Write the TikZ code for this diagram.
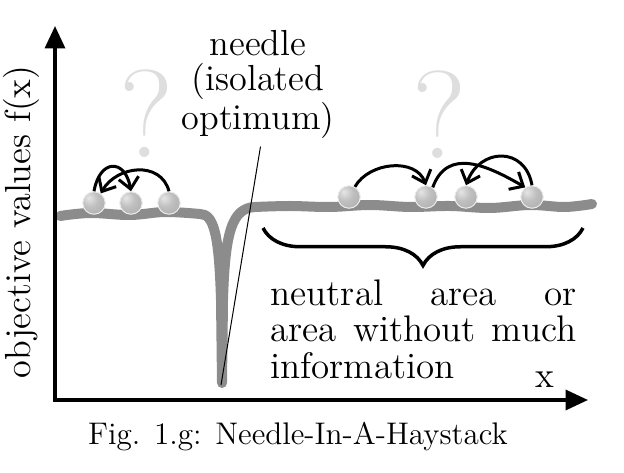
\documentclass[tikz,border=0pt]{standalone}
\usepackage{tikz}
\usetikzlibrary{arrows.meta, decorations.pathreplacing}
\definecolor{HayGray}{RGB}{140,140,140}
\definecolor{QuestGray}{RGB}{222,222,222}
\pgfdeclareradialshading{hayball}{\pgfpoint{-12bp}{12bp}}{%
    color(0bp)=(gray!20); color(18bp)=(gray!50); color(45bp)=(gray!68); color(75bp)=(gray!75)}
\tikzset{
    axisline/.style={line width=1.4pt,
        {Triangle[length=9pt,width=8pt]}-{Triangle[length=9pt,width=8pt]}},
    haycurve/.style={line width=4pt, HayGray, line join=round, line cap=round},
    ballnode/.style={circle, minimum size=9pt, inner sep=0pt, shading=hayball,
        draw=gray!15, line width=0.4pt},
    hoparrow/.style={-{Straight Barb[length=4.5pt,width=8pt]}, line width=1.2pt},
    questmark/.style={text=QuestGray, font=\fontsize{50}{50}\selectfont, inner sep=0pt},
    bigtext/.style={font=\fontsize{14.5}{14}\selectfont, inner sep=0pt},
    pointerline/.style={line width=0.4pt},
    bracedeco/.style={decorate, decoration={brace, amplitude=15pt}, line width=1.4pt},
}

\begin{document}
\begin{tikzpicture}[x=0.4pt, y=0.4pt]
    \useasboundingbox (0,0) rectangle (624,472);
    \coordinate (O) at (55,72);
    \coordinate (ytop) at (55,446);
    \coordinate (xend) at (588,72);
    \coordinate (needletip) at (221,87);
    \coordinate (braceL) at (263,244);
    \coordinate (braceR) at (583,244);

    \node[questmark] (qleft) at (147,358) {?};
    \node[questmark] (qright) at (440,357) {?};

    \draw[haycurve] plot[smooth, tension=0.6] coordinates {(60,256) (90,259) (130,257) (165,260) (200,258)}
        .. controls (214,258) and (219,237) .. (221,172) -- (222,89) -- (223,172)
        .. controls (225,240) and (232,264) .. (255,265)
        -- plot[smooth, tension=0.6] coordinates {(255,265) (290,266) (330,265) (370,267) (410,265)
            (450,266) (490,264) (530,267) (565,265) (592,268)};

    \node[ballnode] (l1) at (94,269) {};
    \node[ballnode] (l2) at (131,269) {};
    \node[ballnode] (l3) at (169,269) {};
    \node[ballnode] (r1) at (349,275) {};
    \node[ballnode] (r2) at (426,275) {};
    \node[ballnode] (r3) at (466,275) {};
    \node[ballnode] (r4) at (532,275) {};

    \draw[hoparrow] (l3.north) to[out=105, in=60, looseness=1.2] (l1.55);
    \draw[hoparrow] (l1.north) to[out=80, in=100, looseness=2.3] (l2.north);
    \draw[hoparrow] (r1.60) to[out=60, in=110, looseness=1.05] (r2.north);
    \draw[hoparrow] (r2.55) to[out=70, in=150, looseness=1.2] (r4.125);
    \draw[hoparrow] (r4.north) to[out=100, in=70, looseness=1.55] (r3.north);

    \node[bigtext, align=center, anchor=north] (needle) at (258,442) {needle\\(isolated\\optimum)};
    \draw[pointerline] ([xshift=1pt, yshift=-3pt]needle.south) -- (needletip);

    \draw[bracedeco] (braceR) -- (braceL);
    \node[bigtext, font=\fontsize{14.8}{14.6}\selectfont, text width=122.4pt, align=justify,
        anchor=north west] (neutral) at (270,193)
        {neutral area or\linebreak area without much\linebreak information};

    \draw[axisline] (ytop) -- (O) -- (xend);
    \node[bigtext, rotate=90] (ylabel) at (21,250) {objective values f(x)};
    \node[bigtext] (xlabel) at (545,92) {x};

    \node[font=\fontsize{12.5}{14}\selectfont] (caption) at (298,35) {Fig. 1.g: Needle-In-A-Haystack};
\end{tikzpicture}
\end{document}
